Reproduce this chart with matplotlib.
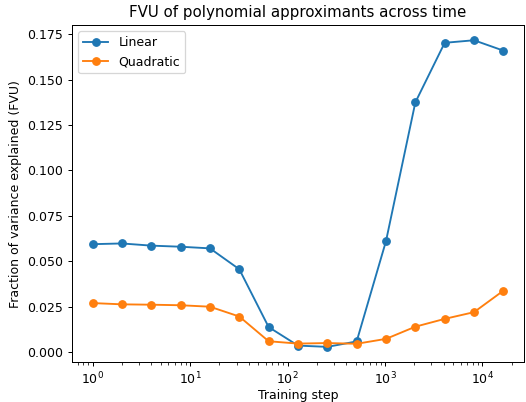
import numpy as np
import matplotlib
matplotlib.use("Agg")
import matplotlib.pyplot as plt

# training steps (powers of two)
steps = [1, 2, 4, 8, 16, 32, 64, 128, 256, 512, 1024, 2048, 4096, 8192, 16384]

# FVU
fvu_linear = [0.0594, 0.0598, 0.0586, 0.0580, 0.0571, 0.0456, 0.0138, 0.0036,
              0.0029, 0.0059, 0.0611, 0.1374, 0.1702, 0.1716, 0.1659]
fvu_quadratic = [0.0270, 0.0263, 0.0261, 0.0258, 0.0250, 0.0196, 0.0060, 0.0047,
                 0.0050, 0.0046, 0.0073, 0.0140, 0.0183, 0.0220, 0.0338]

DPI = 90
fig, ax = plt.subplots(figsize=(526 / DPI, 402 / DPI), dpi=DPI)
ax.plot(steps, fvu_linear, 'o-', label='Linear')
ax.plot(steps, fvu_quadratic, 'o-', label='Quadratic')
ax.set_xscale('log')
ax.set_xlabel('Training step', labelpad=1.5)
ax.set_ylabel('Fraction of variance explained (FVU)')
ax.set_title('FVU of polynomial approximants across time')
ax.legend(loc='upper left')

plt.subplots_adjust(left=0.137, right=0.996, top=0.938, bottom=0.099)
plt.savefig('out.png', dpi=DPI)
